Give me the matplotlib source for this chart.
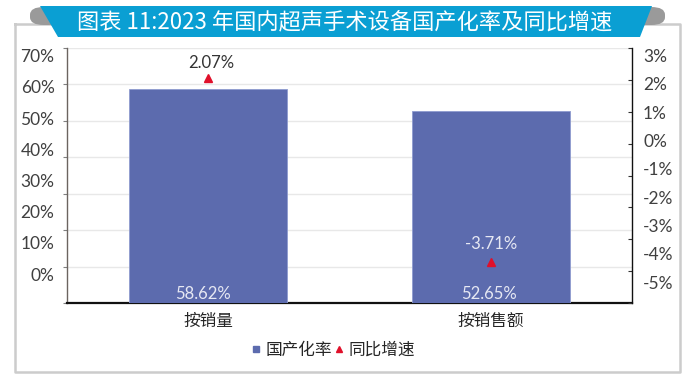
import matplotlib
matplotlib.use("Agg")
import matplotlib.pyplot as plt
from matplotlib.patches import Polygon, FancyBboxPatch
from matplotlib.lines import Line2D
import numpy as np

plt.rcParams['font.family'] = ['Lato', 'Noto Sans CJK SC', 'DejaVu Sans']

# ---- data ----
categories = ["按销量", "按销售额"]
localization_rate = [58.62, 52.65]      # %
yoy_growth = [2.07, -3.71]              # %
left_tick_labels = ["0%", "10%", "20%", "30%", "40%", "50%", "60%", "70%"]
right_tick_labels = ["-5%", "-4%", "-3%", "-2%", "-1%", "0%", "1%", "2%", "3%"]
title = "图表 11:2023 年国内超声手术设备国产化率及同比增速"
legend_labels = ["国产化率", "同比增速"]

W, H = 692, 384
fig = plt.figure(figsize=(W / 100, H / 100), dpi=100)

def fx(x):
    return x / W

def fy(y):
    return 1 - y / H

# ---- frame ----
frame_col = "#cccccc"
fig.add_artist(Line2D([fx(15), fx(15), fx(680), fx(680), fx(15)],
                      [fy(24), fy(372), fy(372), fy(24), fy(24)],
                      transform=fig.transFigure, color=frame_col, lw=1.8, zorder=1))

# ---- banner ----
grey_tab = "#9a9a9a"
for x0, x1 in [(30, 62), (628, 665)]:
    fig.add_artist(FancyBboxPatch((fx(x0), fy(25)), fx(x1 - x0), (25 - 7) / H,
                                  boxstyle="round,pad=0,rounding_size=0.02",
                                  transform=fig.transFigure, facecolor=grey_tab,
                                  edgecolor="none", zorder=2))
fig.add_artist(Polygon([(fx(40), fy(6)), (fx(58), fy(37)), (fx(640), fy(37)), (fx(652), fy(6))],
                       closed=True, transform=fig.transFigure, facecolor="#0a9fd3",
                       edgecolor="none", zorder=3))
fig.text(fx(345), fy(23), title, color="white", fontsize=16, fontweight="medium",
         family=['Noto Sans CJK SC', 'DejaVu Sans'], ha="center", va="center", zorder=4)

# ---- axes ----
ax = fig.add_axes([fx(67), fy(303), fx(632 - 67), (303 - 48) / H])
ax.set_zorder(5)
x = np.arange(len(categories))
bar_col = "#5c6bae"
bars = ax.bar(x, localization_rate, width=0.56, color=bar_col, edgecolor="#8f9bcf",
              linewidth=0.6, zorder=3)
ax.set_xlim(-0.5, 1.5)
ax.set_ylim(0, 70)
ax.set_xticks(x)
ax.set_xticklabels(categories, fontsize=12, color="#262626")
ax.tick_params(axis="x", length=0, pad=7)

# gridlines at real scale, labels as drawn in the reference
ax.set_yticks(np.arange(0, 71, 10))
ax.set_yticklabels([""] * 8)
ax.tick_params(axis="y", which="major", length=3, width=0.8, color="#808080")
ax.set_yticks(np.linspace(7.96, 67.9, 8), minor=True)
ax.set_yticklabels(left_tick_labels, minor=True, fontsize=12.5, color="#404040")
ax.tick_params(axis="y", which="minor", length=0, pad=9)
ax.grid(axis="y", which="major", color="#e8e8e8", lw=1.0, zorder=0)
ax.set_axisbelow(True)

ax.spines["top"].set_visible(False)
ax.spines["left"].set_color("#6b6460")
ax.spines["left"].set_linewidth(1.0)
ax.spines["bottom"].set_color("#111111")
ax.spines["bottom"].set_linewidth(1.6)
ax.spines["right"].set_visible(False)

for i, v in enumerate(localization_rate):
    ax.annotate(f"{v:.2f}%", xy=(i, 0), xytext=(-4 if i == 0 else -1, 1),
                textcoords="offset points", ha="center", va="bottom",
                fontsize=12, color="#e6e8f3", zorder=6)

# ---- secondary axis ----
ax2 = ax.twinx()
ax2.set_ylim(-5, 3)
ax2.plot(x, yoy_growth, linestyle="none", marker="^", ms=6, color="#e0102a", zorder=6)
ax2.set_yticks(np.arange(-5, 3.1, 1))
ax2.set_yticklabels([""] * 9)
ax2.tick_params(axis="y", which="major", length=3, width=0.8, direction="in", color="#333333")
ax2.set_yticks(np.linspace(-4.35, 2.76, 9), minor=True)
ax2.set_yticklabels(right_tick_labels, minor=True, fontsize=12.5, color="#404040")
ax2.tick_params(axis="y", which="minor", length=0, pad=8)
for s in ["top", "left", "bottom"]:
    ax2.spines[s].set_visible(False)
ax2.spines["right"].set_color("#111111")
ax2.spines["right"].set_linewidth(1.0)

label_cols = ["#333333", "#e6e8f3"]
offsets = [(2, 5), (0, 7)]
for i, v in enumerate(yoy_growth):
    ax2.annotate(f"{v:.2f}%", xy=(i, v), xytext=offsets[i], textcoords="offset points",
                 ha="center", va="bottom", fontsize=12, color=label_cols[i], zorder=7)

# ---- legend ----
handles = [Line2D([], [], linestyle="none", marker="s", ms=5, color=bar_col),
           Line2D([], [], linestyle="none", marker="^", ms=5, color="#e0102a")]
fig.legend(handles, legend_labels, loc="center", bbox_to_anchor=(fx(333), fy(350)),
           ncol=2, frameon=False, fontsize=12, handlelength=0.6, handletextpad=0.3,
           columnspacing=0.1, labelcolor="#262626")

fig.savefig("out.png", dpi=100)
